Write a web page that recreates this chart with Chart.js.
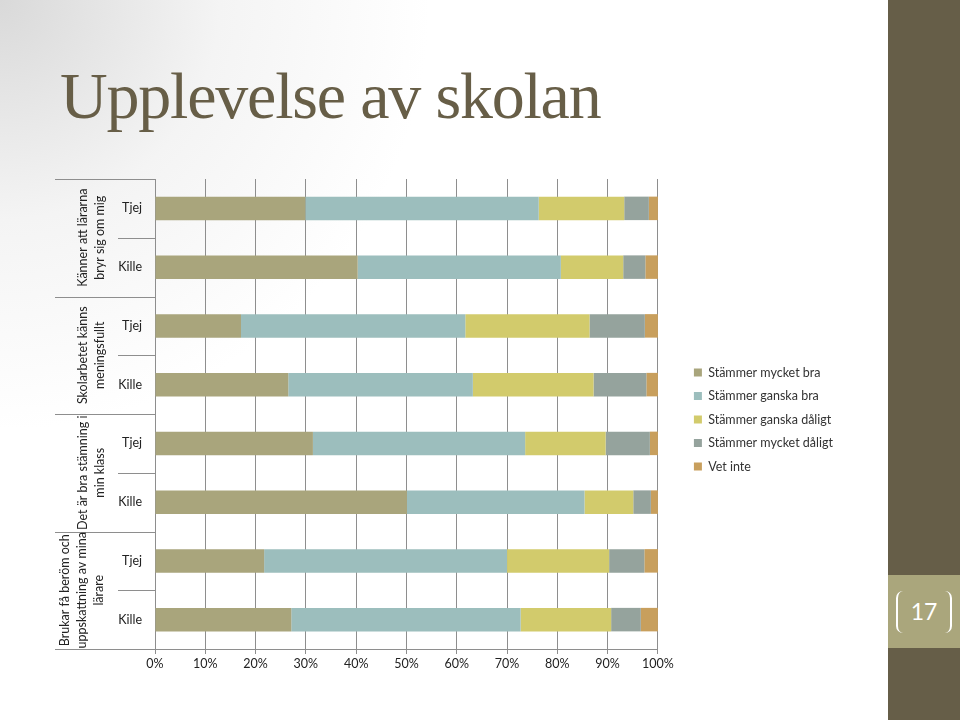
<!DOCTYPE html>
<html>
<head>
<meta charset="utf-8">
<script src="https://cdn.jsdelivr.net/npm/chart.js@4/dist/chart.umd.min.js"></script>
<style>
  html, body { margin: 0; padding: 0; }
  body {
    width: 960px; height: 720px; position: relative; overflow: hidden;
    background: radial-gradient(circle at 0 0, #d9d9d9 0, #f4f4f4 220px, #ffffff 430px);
  }
  #title {
    position: absolute; left: 60px; top: 63px; line-height: 1;
    font-family: "Liberation Serif", serif; font-size: 66px; letter-spacing: -1.2px; color: #675e47;
    white-space: nowrap;
  }
  #strip { position: absolute; left: 888px; top: 0; width: 72px; height: 720px; background: #665e48; }
  #pagebox { position: absolute; left: 888px; top: 575px; width: 72px; height: 73px; background: #aaa67c; }
  #bracket {
    position: absolute; left: 8px; top: 16px; width: 52px; height: 42px;
    border-left: 2px solid #fff; border-right: 2px solid #fff; border-radius: 7px;
  }
  #pagenum {
    position: absolute; left: 0; top: 0; width: 72px; height: 73px; line-height: 73px;
    text-align: center; color: #fff; font-family: Lato, sans-serif; font-size: 23px;
  }
  #wrap { position: absolute; left: 40px; top: 170px; width: 803px; height: 510px; }
</style>
</head>
<body>
<div id="title">Upplevelse av skolan</div>
<div id="strip"></div>
<div id="pagebox"><div id="bracket"></div><div id="pagenum">17</div></div>
<div id="wrap"><canvas id="chart"></canvas></div>
<script>
// categories top to bottom
const CATEGORIES = [ 'Tjej', 'Kille', 'Tjej', 'Kille', 'Tjej', 'Kille', 'Tjej', 'Kille' ];
const GROUPS = [
  [ 'Känner att lärarna', 'bryr sig om mig' ],
  [ 'Skolarbetet känns', 'meningsfullt' ],
  [ 'Det är bra stämning i', 'min klass' ],
  [ 'Brukar få beröm och', 'uppskattning av mina', 'lärare' ]
];
const SERIES_NAMES = [ 'Stämmer mycket bra', 'Stämmer ganska bra', 'Stämmer ganska dåligt', 'Stämmer mycket dåligt', 'Vet inte' ];
const MYCKET_BRA    = [ 29.9, 40.3, 17.1, 26.5, 31.4, 50.1, 21.7, 27.1 ];
const GANSKA_BRA    = [ 46.4, 40.4, 44.6, 36.7, 42.2, 35.3, 48.3, 45.6 ];
const GANSKA_DALIGT = [ 17.0, 12.4, 24.7, 24.0, 16.0,  9.7, 20.3, 18.0 ];
const MYCKET_DALIGT = [  4.9,  4.4, 11.0, 10.5,  8.8,  3.5,  7.0,  5.9 ];
const VET_INTE      = [  1.8,  2.5,  2.6,  2.3,  1.6,  1.4,  2.7,  3.4 ];
const X_TICKS = [ 0, 10, 20, 30, 40, 50, 60, 70, 80, 90, 100 ];

const COLORS = [ '#a9a57c', '#9cbebd', '#d2cb6c', '#95a39d', '#c89f5d' ];
const SERIES = [ MYCKET_BRA, GANSKA_BRA, GANSKA_DALIGT, MYCKET_DALIGT, VET_INTE ];
const AXIS_GREY = '#8e8e8e';

// multi level category axis (group labels + separators)
const groupAxis = {
  id: 'groupAxis',
  afterDraw( chart ) {
    const ctx = chart.ctx;
    const y = chart.scales.y;
    const left = y.right;
    const half = ( y.getPixelForValue( 1 ) - y.getPixelForValue( 0 ) ) / 2;
    ctx.save();
    ctx.strokeStyle = AXIS_GREY;
    ctx.lineWidth = 1;
    for ( let i = 0; i <= CATEGORIES.length; i++ ) {
      const py = Math.round( y.getPixelForValue( i ) - half ) + 0.5;
      const x0 = i % 2 == 0 ? 15 : 78;
      ctx.beginPath();
      ctx.moveTo( x0, py );
      ctx.lineTo( left, py );
      ctx.stroke();
    }
    ctx.fillStyle = '#222';
    ctx.font = '12.5px Lato, sans-serif';
    ctx.textAlign = 'center';
    ctx.textBaseline = 'middle';
    GROUPS.forEach( ( lines, g ) => {
      const cy = ( y.getPixelForValue( g * 2 ) + y.getPixelForValue( g * 2 + 1 ) ) / 2;
      const cx = lines.length > 2 ? 42 : 51.5;
      lines.forEach( ( txt, i ) => {
        const lx = cx + ( i - ( lines.length - 1 ) / 2 ) * 17;
        ctx.save();
        ctx.translate( lx, cy );
        ctx.rotate( -Math.PI / 2 );
        ctx.fillText( txt, 0, 0 );
        ctx.restore();
      } );
    } );
    ctx.restore();
  }
};

Chart.defaults.font.family = 'Lato, sans-serif';
Chart.defaults.font.size = 12.5;
Chart.defaults.color = '#222';

new Chart( document.getElementById( 'chart' ), {
  type: 'bar',
  data: {
    labels: CATEGORIES,
    datasets: SERIES.map( ( vals, i ) => ( {
      label: SERIES_NAMES[ i ],
      data: vals,
      backgroundColor: COLORS[ i ],
      borderWidth: 0,
      barPercentage: 0.4,
      categoryPercentage: 1
    } ) )
  },
  options: {
    indexAxis: 'y',
    responsive: true,
    maintainAspectRatio: false,
    animation: false,
    layout: { padding: { top: 9, bottom: 0 } },
    plugins: {
      legend: {
        position: 'right',
        fullSize: false,
        maxWidth: 300,
        // empty title only nudges the items down a little
        title: { display: true, text: '', font: { size: 5 }, padding: 2.5 },
        labels: { boxWidth: 8, boxHeight: 8, padding: 11, color: '#333' }
      },
      tooltip: { enabled: false }
    },
    scales: {
      x: {
        stacked: true,
        min: 0,
        max: 100,
        afterBuildTicks: s => { s.ticks = X_TICKS.map( v => ( { value: v } ) ); },
        ticks: { callback: v => v + '%', padding: 2, color: '#222' },
        grid: { color: AXIS_GREY, tickLength: 5 },
        border: { color: AXIS_GREY },
        afterFit: s => { s.height = 31; }
      },
      y: {
        stacked: true,
        grid: { display: false },
        border: { color: AXIS_GREY },
        ticks: { padding: 5, color: '#222' },
        afterFit: s => { s.width = 115; s.paddingTop = 0; s.paddingBottom = 0; }
      },
      yGap: {
        type: 'category',
        position: 'right',
        grid: { display: false },
        border: { display: false },
        ticks: { display: false },
        afterFit: s => { s.width = 25; }
      }
    }
  },
  plugins: [ groupAxis ]
} );
</script>
</body>
</html>
